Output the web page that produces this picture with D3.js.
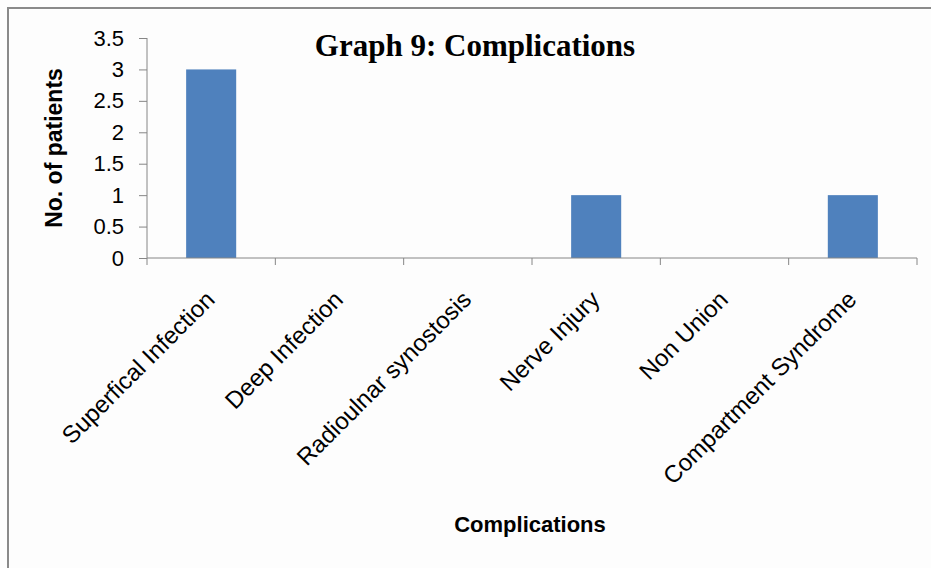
<!DOCTYPE html>
<html>
<head>
<meta charset="utf-8">
<script src="https://cdn.jsdelivr.net/npm/d3@7"></script>
<style>
  body { margin: 0; background: #fdfdfd; }
</style>
</head>
<body>
<div id="chart"></div>
<script>
// complication categories and patient counts
var categories = ["Superfical Infection", "Deep Infection", "Radioulnar synostosis", "Nerve Injury", "Non Union", "Compartment Syndrome"];
var patients = [3, 0, 0, 1, 0, 1];
var yTicks = [0, 0.5, 1, 1.5, 2, 2.5, 3, 3.5];

var W = 931, H = 568;
var margin = { top: 38, right: 14, bottom: 310, left: 147 };
var width = W - margin.left - margin.right;
var height = H - margin.top - margin.bottom;

var svg = d3.select("#chart").append("svg")
  .attr("width", W)
  .attr("height", H);

// outer frame (only top and left edges visible)
svg.append("path")
  .attr("d", "M8,568 V8 H931")
  .attr("fill", "none")
  .attr("stroke", "#8a8a8a")
  .attr("stroke-width", 2);

var g = svg.append("g")
  .attr("transform", "translate(" + margin.left + "," + margin.top + ")");

var x = d3.scaleBand().domain(categories).range([0, width]).paddingInner(0.61).paddingOuter(0.305);
var xTick = d3.scaleBand().domain(categories).range([0, width]);
var y = d3.scaleLinear().domain([0, 3.5]).range([height, 0]);

// bars
g.selectAll(".bar")
  .data(categories)
  .enter()
  .append("rect")
  .attr("class", "bar")
  .attr("x", function (d) { return x(d); })
  .attr("width", x.bandwidth())
  .attr("y", function (d, i) { return y(patients[i]); })
  .attr("height", function (d, i) { return height - y(patients[i]); })
  .attr("fill", "#4f81bd");

// y axis
var yAxis = g.append("g")
  .call(d3.axisLeft(y).tickValues(yTicks).tickSize(8).tickPadding(15).tickFormat(d3.format("")));
yAxis.select(".domain").attr("stroke", "#868686").attr("d", "M0,0V" + height);
yAxis.selectAll(".tick line").attr("stroke", "#868686");
yAxis.selectAll("text")
  .attr("font-family", "Liberation Sans, Arial, sans-serif")
  .attr("font-size", 22)
  .attr("fill", "#000");

// x axis line with ticks at band edges
var xAxis = g.append("g").attr("transform", "translate(0," + height + ")");
xAxis.append("line")
  .attr("x1", 0).attr("x2", width)
  .attr("stroke", "#868686");
xAxis.selectAll(".xt")
  .data(categories.concat(["end"]))
  .enter()
  .append("line")
  .attr("x1", function (d, i) { return i < categories.length ? xTick(d) : width; })
  .attr("x2", function (d, i) { return i < categories.length ? xTick(d) : width; })
  .attr("y1", 0).attr("y2", 7)
  .attr("stroke", "#868686");

// rotated category labels
xAxis.selectAll(".xl")
  .data(categories)
  .enter()
  .append("text")
  .attr("transform", function (d) {
    return "translate(" + (xTick(d) + xTick.bandwidth() / 2 + 5) + ",43) rotate(-45)";
  })
  .attr("text-anchor", "end")
  .attr("font-family", "Liberation Sans, Arial, sans-serif")
  .attr("font-size", 24)
  .attr("fill", "#000")
  .text(function (d) { return d; });

// title
svg.append("text")
  .attr("x", 475)
  .attr("y", 56)
  .attr("text-anchor", "middle")
  .attr("font-family", "Liberation Serif, Times New Roman, serif")
  .attr("font-weight", "bold")
  .attr("font-size", 31)
  .text("Graph 9: Complications");

// y axis title
svg.append("text")
  .attr("transform", "translate(62,148) rotate(-90)")
  .attr("text-anchor", "middle")
  .attr("font-family", "Liberation Sans, Arial, sans-serif")
  .attr("font-weight", "bold")
  .attr("font-size", 23)
  .text("No. of patients");

// x axis title
svg.append("text")
  .attr("x", 530)
  .attr("y", 532)
  .attr("text-anchor", "middle")
  .attr("font-family", "Liberation Sans, Arial, sans-serif")
  .attr("font-weight", "bold")
  .attr("font-size", 22)
  .text("Complications");
</script>
</body>
</html>
